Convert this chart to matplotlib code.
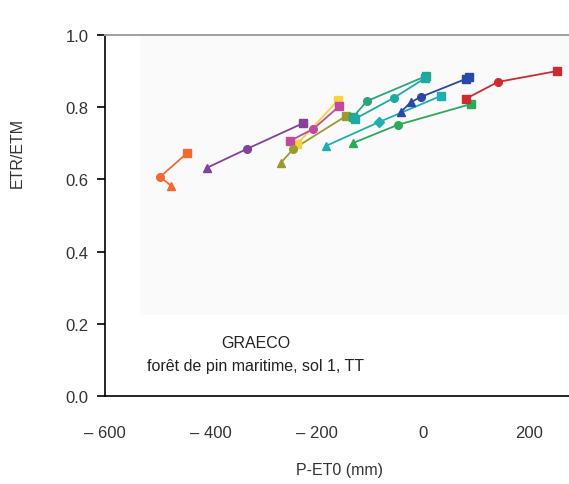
import matplotlib
matplotlib.use("Agg")
import matplotlib.pyplot as plt
from matplotlib.patches import Rectangle

plt.rcParams['font.family'] = ['Liberation Sans', 'DejaVu Sans']

# ETR/ETM against P-ET0 for each simulated year group
orange_x = [-475, -496, -445]
orange_y = [0.582, 0.607, 0.673]
orange_m = ['^', 'o', 's']

purple_x = [-408, -333, -226]
purple_y = [0.632, 0.684, 0.756]
purple_m = ['^', 'o', 's']

pink_x = [-252, -207, -158]
pink_y = [0.706, 0.740, 0.803]
pink_m = ['s', 'o', 's']

yellow_x = [-238, -160]
yellow_y = [0.697, 0.820]
yellow_m = ['s', 's']

olive_x = [-269, -245, -145]
olive_y = [0.645, 0.684, 0.776]
olive_m = ['^', 'o', 's']

seagreen_x = [-132, -106, 5]
seagreen_y = [0.773, 0.817, 0.886]
seagreen_m = ['s', 'o', 's']

teal_x = [-128, -55, 3]
teal_y = [0.768, 0.826, 0.880]
teal_m = ['s', 'o', 's']

cyan_x = [-183, -83, 33]
cyan_y = [0.693, 0.759, 0.831]
cyan_m = ['^', 'D', 's']

green_x = [-132, -48, 91]
green_y = [0.701, 0.751, 0.809]
green_m = ['^', 'o', 's']

blue_x = [-42, -23, -5, 80, 86]
blue_y = [0.787, 0.814, 0.828, 0.878, 0.884]
blue_m = ['^', '^', 'o', 's', 's']

red_x = [80, 141, 252]
red_y = [0.823, 0.870, 0.900]
red_m = ['s', 'o', 's']

series = [
    (orange_x, orange_y, orange_m, '#f26a2e'),
    (purple_x, purple_y, purple_m, '#84409a'),
    (yellow_x, yellow_y, yellow_m, '#f5d23e'),
    (pink_x, pink_y, pink_m, '#c24a9e'),
    (olive_x, olive_y, olive_m, '#9b9a2f'),
    (seagreen_x, seagreen_y, seagreen_m, '#2ca47c'),
    (teal_x, teal_y, teal_m, '#1eaaa4'),
    (cyan_x, cyan_y, cyan_m, '#20afb0'),
    (green_x, green_y, green_m, '#2caa5c'),
    (blue_x, blue_y, blue_m, '#2a48a6'),
    (red_x, red_y, red_m, '#cc2b2f'),
]

x_ticks = [-600, -400, -200, 0, 200]
x_tick_labels = ['\u2013 600', '\u2013 400', '\u2013 200', '0', '200']
y_ticks = [0.0, 0.2, 0.4, 0.6, 0.8, 1.0]

W, H = 569, 485
fig = plt.figure(figsize=(W / 100, H / 100), dpi=100)

# faint panel behind the plotting area
fig.patches.append(Rectangle((140 / W, 1 - 316 / H), (W - 140) / W, (316 - 37) / H,
                             transform=fig.transFigure, facecolor='#fafafa',
                             edgecolor='none', zorder=-5))

ax = fig.add_axes([105 / W, 88 / H, 464 / W, 361 / H])
ax.set_facecolor('none')
ax.set_zorder(2)
ax.set_xlim(-600, 275)
ax.set_ylim(0, 1.0)

for xs, ys, ms, c in series:
    ax.plot(xs, ys, color=c, lw=1.3, zorder=2, clip_on=False)
    for xv, yv, m in zip(xs, ys, ms):
        size = 6 if m == 's' else 5.5
        ax.plot([xv], [yv], marker=m, ms=size, color=c, mec=c, ls='none',
                zorder=3, clip_on=False)

ax.spines['right'].set_visible(False)
ax.spines['top'].set_color('#a0a0a0')
ax.spines['top'].set_linewidth(1.4)
ax.spines['left'].set_linewidth(1.2)
ax.spines['bottom'].set_linewidth(1.2)

ax.set_yticks(y_ticks)
ax.set_yticklabels([f'{v:.1f}' for v in y_ticks])
ax.set_xticks(x_ticks)
ax.set_xticklabels(x_tick_labels)
ax.tick_params(axis='y', length=6, width=1.2, pad=6, labelsize=12, labelcolor='#333333')
ax.tick_params(axis='x', length=0, pad=21, labelsize=12, labelcolor='#333333')

fig.text(17 / W, 1 - 153 / H, 'ETR/ETM', rotation=90, ha='center', va='center',
         fontsize=11.5, color='#333333')
fig.text(340 / W, 1 - 471 / H, 'P-ET0 (mm)', ha='center', va='center',
         fontsize=11.5, color='#333333')

ax.text(256 / W, 1 - 343 / H, 'GRAECO', transform=fig.transFigure,
        ha='center', va='center', fontsize=11.5, color='#222222')
ax.text(256 / W, 1 - 367 / H, 'forêt de pin maritime, sol 1, TT', transform=fig.transFigure,
        ha='center', va='center', fontsize=11.5, color='#222222')

fig.savefig('out.png', dpi=100)
